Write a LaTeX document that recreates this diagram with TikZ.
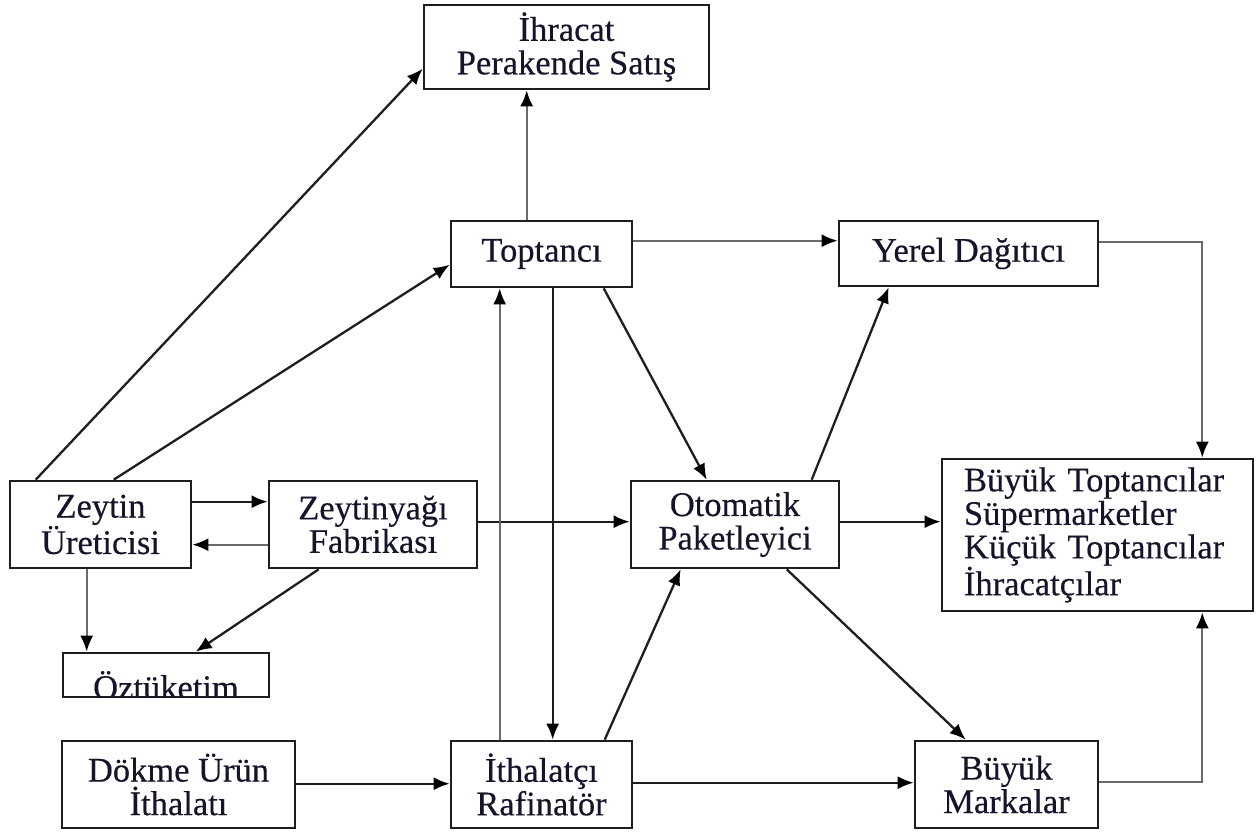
\documentclass[tikz,border=0pt]{standalone}
\usepackage{fontspec}
\setmainfont{Liberation Serif}[FakeBold=0.35]
\usetikzlibrary{arrows.meta}
\definecolor{ink}{HTML}{14142A}
\definecolor{edge}{HTML}{1E1E1E}
\definecolor{soft}{HTML}{6A6A6A}
\tikzset{
  box/.style={draw=edge, line width=2.6pt, fill=white, inner sep=0pt, align=center,
    text=ink, font=\fontsize{34.5}{33.5}\selectfont},
  flow/.style={draw=edge, line width=2.3pt, -{Latex[length=16pt,width=13pt,color=black]}},
  lightflow/.style={draw=soft, line width=2.3pt, -{Latex[length=16pt,width=13pt,color=black]}},
}
\begin{document}
\begin{tikzpicture}[x=1pt,y=-1pt]
\useasboundingbox[fill=white] (0,0) rectangle (1256,834);

% boxes
\node[box, minimum width=285pt, minimum height=84pt] (ihr) at (566.5,47) {İhracat\\Perakende Satış};
\node[box, minimum width=181pt, minimum height=66pt] (top) at (541.5,254) {Toptancı};
\node[box, minimum width=259pt, minimum height=65pt] (yer) at (968.5,253.5) {Yerel Dağıtıcı};
\node[box, minimum width=181pt, minimum height=87pt] (zey) at (100.5,524.5) {Zeytin\\Üreticisi};
\node[box, minimum width=208pt, minimum height=87pt] (fab) at (373,524.5) {Zeytinyağı\\Fabrikası};
\node[box, minimum width=206pt, minimum height=44pt] (ozt) at (166,675) {};
\node[box, minimum width=208pt, minimum height=87pt] (oto) at (735,524.5) {Otomatik\\Paketleyici};
\node[box, minimum width=311pt, minimum height=152pt, text width=267pt, align=left] (big) at (1097.5,535)
  {Büyük Toptancılar\\Süpermarketler\\Küçük Toptancılar\\İhracatçılar};
\node[box, minimum width=233pt, minimum height=87pt] (dok) at (178.5,784.5) {Dökme Ürün\\İthalatı};
\node[box, minimum width=181pt, minimum height=87pt] (ith) at (541.5,784.5) {İthalatçı\\Rafinatör};
\node[box, minimum width=183pt, minimum height=87pt] (mar) at (1006.5,784.5) {Büyük\\Markalar};

% the label of the own-consumption box runs past its lower edge
\begin{scope}
  \clip ([xshift=1.3pt,yshift=-1.3pt]ozt.north west) rectangle ([xshift=-1.3pt,yshift=1.3pt]ozt.south east);
  \node[anchor=base, inner sep=0pt, text=ink, font=\fontsize{34.5}{33.5}\selectfont] (oztlabel) at (166,699) {Öztüketim};
\end{scope}

% connectors
\draw[flow] ([xshift=27pt]zey.north west) -- ([yshift=-65pt]ihr.north west);
\draw[flow] ([xshift=105pt]zey.north west) -- ([yshift=-45pt]top.north west);
\draw[flow] ([yshift=-22pt]zey.north east) -- ([yshift=-22pt]fab.north west);
\draw[lightflow] ([yshift=-65pt]fab.north west) -- ([yshift=-65pt]zey.north east);
\draw[lightflow] ([xshift=78pt]zey.south west) -- ([xshift=25pt]ozt.north west);
\draw[flow] ([xshift=51pt]fab.south west) -- ([xshift=134pt]ozt.north west);
\draw[flow] ([yshift=-42pt]fab.north east) -- ([yshift=-42pt]oto.north west);
\draw[lightflow] ([xshift=77pt]top.north west) -- ([xshift=104pt]ihr.south west);
\draw[lightflow] ([yshift=-21pt]top.north east) -- ([yshift=-21pt]yer.north west);
\draw[flow] ([xshift=103pt]top.south west) -- ([xshift=103pt]ith.north west);
\draw[lightflow] ([xshift=50pt]ith.north west) -- ([xshift=50pt]top.south west);
\draw[flow] ([xshift=154pt]top.south west) -- ([xshift=77pt]oto.north west);
\draw[flow] ([xshift=182pt]oto.north west) -- ([xshift=51pt]yer.south west);
\draw[lightflow] ([yshift=-22pt]yer.north east) -| ([xshift=-52pt]big.north east);
\draw[flow] ([yshift=-42pt]oto.north east) -- ([yshift=-64pt]big.north west);
\draw[flow] ([xshift=157pt]oto.south west) -- ([xshift=52pt]mar.north west);
\draw[flow] ([xshift=155pt]ith.north west) -- ([xshift=51pt]oto.south west);
\draw[flow] ([yshift=-44pt]dok.north east) -- ([yshift=-44pt]ith.north west);
\draw[flow] ([yshift=-43pt]ith.north east) -- ([yshift=-43pt]mar.north west);
\draw[lightflow] ([yshift=-42pt]mar.north east) -| ([xshift=-52pt]big.south east);
\end{tikzpicture}
\end{document}
